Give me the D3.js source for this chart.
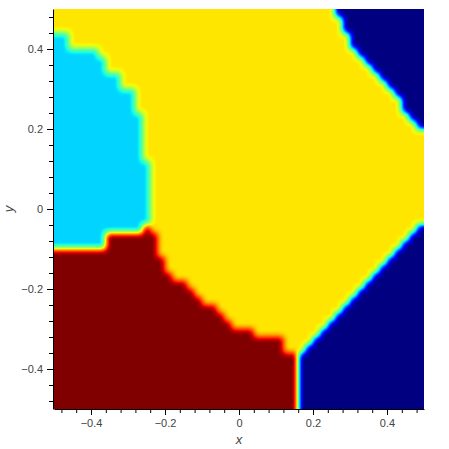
<!DOCTYPE html>
<html lang="en">
<head>
<meta charset="utf-8">
<title>Decision regions</title>
<script src="https://d3js.org/d3.v7.min.js"></script>
<style>
  body{ margin:0; background:#fff; }
  svg{ display:block; }
  .axis text{ font-family: Helvetica, Arial, "Liberation Sans", sans-serif; font-size:11px; fill:#444; }
  .axis path, .axis line{ stroke:#000; }
  .label{ font-family: Helvetica, Arial, "Liberation Sans", sans-serif; font-size:13px; font-style:italic; fill:#444; }
</style>
</head>
<body>
<svg id="chart"></svg>
<script>
// 50 x 50 class grid, row 0 is the top (y = 0.5), col 0 is the left (x = -0.5)
// classes: 0 navy, 1 cyan, 2 yellow, 3 dark red
var cyanEnd = [0,0,0,2,2,6,7,7,9,9,11,11,11,12,12,12,12,12,12,13,13,13,13,13,13,13,13,12,7,7,
               0,0,0,0,0,0,0,0,0,0,0,0,0,0,0,0,0,0,0,0];
var redEnd = [0,0,0,0,0,0,0,0,0,0,0,0,0,0,0,0,0,0,0,0,0,0,0,0,0,0,0,
              13,14,14,14,15,15,16,18,19,20,22,23,24,27,31,31,33,33,33,33,33,33,33];
var navyStart = [38,39,39,40,40,41,42,43,44,45,46,47,47,48,49,
                 50,50,50,50,50,50,50,50,50,50,50,50,
                 49,48,47,46,45,44,43,42,41,40,39,38,37,36,35,34,
                 33,33,33,33,33,33,33];
var classes = {navy: 0, cyan: 1, yellow: 2, red: 3};

var majorTicks = [-0.4, -0.2, 0, 0.2, 0.4];
var minorTicks = [-0.48,-0.44,-0.36,-0.32,-0.28,-0.24,-0.16,-0.12,-0.08,-0.04,
                  0.04,0.08,0.12,0.16,0.24,0.28,0.32,0.36,0.44,0.48];

var width = 449, height = 449;
var margin = {top: 9, left: 54};
var pw = 370, ph = 400;
var nRows = cyanEnd.length, nCols = 50;
var blur = 3; // extra smoothing of the rendered field, in px

var svg = d3.select("#chart").attr("width", width).attr("height", height);

var x = d3.scaleLinear().domain([-0.5, 0.5]).range([margin.left, margin.left + pw]);
var y = d3.scaleLinear().domain([-0.5, 0.5]).range([margin.top + ph, margin.top]);
var col = d3.scaleLinear().domain([-0.5, 0.5]).range([0, nCols]);
var row = d3.scaleLinear().domain([0.5, -0.5]).range([0, nRows]);

function cls(r, c){
  if(c < cyanEnd[r]) return classes.cyan;
  if(c < redEnd[r]) return classes.red;
  if(c < navyStart[r]) return classes.yellow;
  return classes.navy;
}
var grid = d3.range(nRows).map(function(r){
  return d3.range(nCols).map(function(c){ return cls(r, c); });
});

// jet colormap
var jetR = d3.scaleLinear().domain([0,0.35,0.66,0.89,1]).range([0,0,1,1,0.5]);
var jetG = d3.scaleLinear().domain([0,0.125,0.375,0.64,0.91,1]).range([0,0,1,1,0,0]);
var jetB = d3.scaleLinear().domain([0,0.11,0.34,0.65,1]).range([0.5,1,1,0,0]);
var level = d3.scaleLinear().domain([0,3]).range([0,1]).clamp(true);

// bilinear resample of the grid onto screen pixels
var field = new Float32Array(pw*ph);
for(var py = 0; py < ph; py++){
  var gr = row(y.invert(margin.top + py + 0.5)) - 0.5;
  gr = Math.max(0, Math.min(nRows - 1, gr));
  var r0 = Math.floor(gr), r1 = Math.min(r0 + 1, nRows - 1), fy = gr - r0;
  for(var px = 0; px < pw; px++){
    var gc = col(x.invert(margin.left + px + 0.5)) - 0.5;
    gc = Math.max(0, Math.min(nCols - 1, gc));
    var c0 = Math.floor(gc), c1 = Math.min(c0 + 1, nCols - 1), fx = gc - c0;
    field[py*pw + px] = (grid[r0][c0]*(1-fx) + grid[r0][c1]*fx)*(1-fy) +
                        (grid[r1][c0]*(1-fx) + grid[r1][c1]*fx)*fy;
  }
}

// box blur, horizontal then vertical
function boxBlur(src, w, h, rad, horiz){
  var out = new Float32Array(w*h);
  for(var j = 0; j < h; j++){
    for(var i = 0; i < w; i++){
      var s = 0, n = 0;
      for(var k = -rad; k <= rad; k++){
        var ii = horiz ? Math.max(0, Math.min(w-1, i+k)) : i;
        var jj = horiz ? j : Math.max(0, Math.min(h-1, j+k));
        s += src[jj*w + ii]; n++;
      }
      out[j*w + i] = s/n;
    }
  }
  return out;
}
field = boxBlur(boxBlur(field, pw, ph, blur, true), pw, ph, blur, false);

var canvas = document.createElement("canvas");
canvas.width = pw; canvas.height = ph;
var ctx = canvas.getContext("2d");
var img = ctx.createImageData(pw, ph);
for(var p = 0; p < pw*ph; p++){
  var t = level(field[p]);
  img.data[p*4] = Math.round(jetR(t)*255);
  img.data[p*4+1] = Math.round(jetG(t)*255);
  img.data[p*4+2] = Math.round(jetB(t)*255);
  img.data[p*4+3] = 255;
}
ctx.putImageData(img, 0, 0);

svg.append("image")
   .attr("href", canvas.toDataURL())
   .attr("x", margin.left)
   .attr("y", margin.top)
   .attr("width", pw)
   .attr("height", ph)
   .attr("preserveAspectRatio", "none");

var fmt = function(d){ return d === 0 ? "0" : d3.format(".1f")(d); };

var xAxis = svg.append("g").attr("class", "axis")
   .attr("transform", "translate(0," + (margin.top + ph) + ")");
xAxis.call(d3.axisBottom(x).tickValues(majorTicks).tickFormat(fmt)
   .tickSizeInner(6).tickSizeOuter(0).tickPadding(4));
xAxis.append("g").call(d3.axisBottom(x).tickValues(minorTicks).tickFormat("")
   .tickSizeInner(4).tickSizeOuter(0))
   .select(".domain").remove();

var yAxis = svg.append("g").attr("class", "axis")
   .attr("transform", "translate(" + (margin.left - 1) + ",0)");
yAxis.call(d3.axisLeft(y).tickValues(majorTicks).tickFormat(fmt)
   .tickSizeInner(6).tickSizeOuter(0).tickPadding(4));
yAxis.append("g").call(d3.axisLeft(y).tickValues(minorTicks).tickFormat("")
   .tickSizeInner(4).tickSizeOuter(0))
   .select(".domain").remove();

svg.append("text").attr("class", "label")
   .attr("x", x(0)).attr("y", 444)
   .attr("text-anchor", "middle").text("x");
svg.append("text").attr("class", "label")
   .attr("transform", "translate(13," + y(0) + ") rotate(-90)")
   .attr("text-anchor", "middle").text("y");
</script>
</body>
</html>
